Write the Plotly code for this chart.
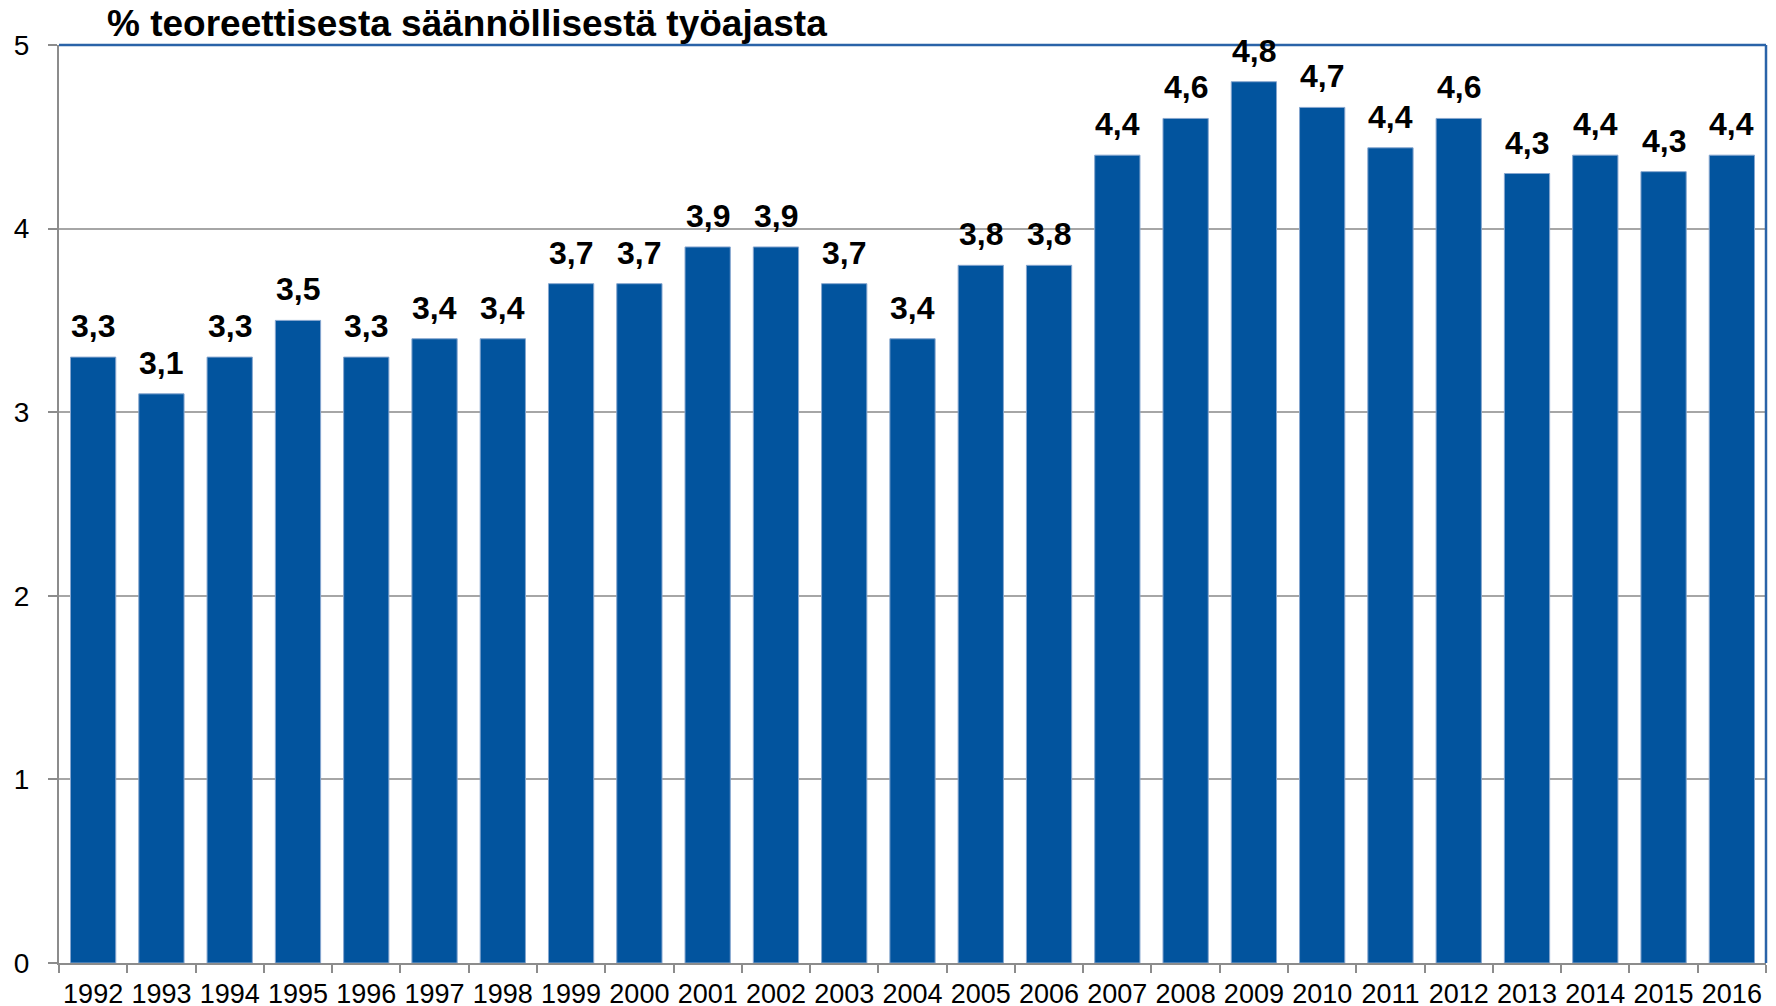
import plotly.graph_objects as go

years = [str(y) for y in range(1992, 2017)]
values = [3.3, 3.1, 3.3, 3.5, 3.3, 3.4, 3.4, 3.7, 3.7, 3.9, 3.9, 3.7, 3.4, 3.8, 3.8,
          4.4, 4.6, 4.8, 4.66, 4.44, 4.6, 4.3, 4.4, 4.31, 4.4]
y_ticks = [0, 1, 2, 3, 4, 5]
title_text = "% teoreettisesta säännöllisestä työajasta"

BAR = "#02549E"
GRID = "#A6A6A6"
AXIS = "#8C8C8C"
BORDER = "#2A63A8"
FONT = "Liberation Sans, Arial, sans-serif"

fig = go.Figure(go.Bar(
    x=years, y=values,
    marker=dict(color=BAR, line=dict(color="#86A6CF", width=1)),
    hoverinfo="skip",
))

for i, v in enumerate(values):
    fig.add_annotation(
        x=i, y=v, xref="x", yref="y", text=f"{v:.1f}".replace(".", ","),
        showarrow=False, yanchor="bottom", yshift=11,
        font=dict(family=FONT, size=32, color="#000000", weight="bold"),
    )

fig.update_layout(
    width=1776, height=1006,
    margin=dict(l=51, r=18, t=37, b=51, autoexpand=False),
    paper_bgcolor="white", plot_bgcolor="white",
    bargap=0.337,
    showlegend=False,
    font=dict(family=FONT, color="#000000"),
    title=dict(text=title_text, x=99 / 1776, xanchor="left", xref="container",
               y=1 - 15 / 1006, yanchor="middle", yref="container",
               font=dict(family=FONT, size=37, weight="bold", color="#000000")),
)

fig.update_xaxes(
    type="category", categoryorder="array", categoryarray=years,
    range=[-0.5, len(years) - 0.5],
    showgrid=False, showline=True, linecolor=AXIS, linewidth=2,
    ticks="outside", tickson="boundaries", ticklen=8, tickcolor=AXIS, tickwidth=2,
    tickangle=0,
    tickfont=dict(size=27, family=FONT, color="#000000"), ticklabelstandoff=6,
    automargin=False,
)
fig.update_yaxes(
    range=[0, 5], tickvals=y_ticks, showgrid=True, gridcolor=GRID, gridwidth=1.5,
    showline=True, linecolor=AXIS, linewidth=2, zeroline=False,
    ticks="outside", ticklen=9, tickcolor=AXIS, tickwidth=2,
    tickfont=dict(size=28, family=FONT, color="#000000"), ticklabelstandoff=13,
    automargin=False,
)

fig.add_shape(type="line", xref="paper", yref="paper", x0=0, x1=1, y0=1, y1=1,
              line=dict(color=BORDER, width=2.5))
fig.add_shape(type="line", xref="paper", yref="paper", x0=1, x1=1, y0=0, y1=1,
              line=dict(color=BORDER, width=2.5))

fig.write_html("out.html")
